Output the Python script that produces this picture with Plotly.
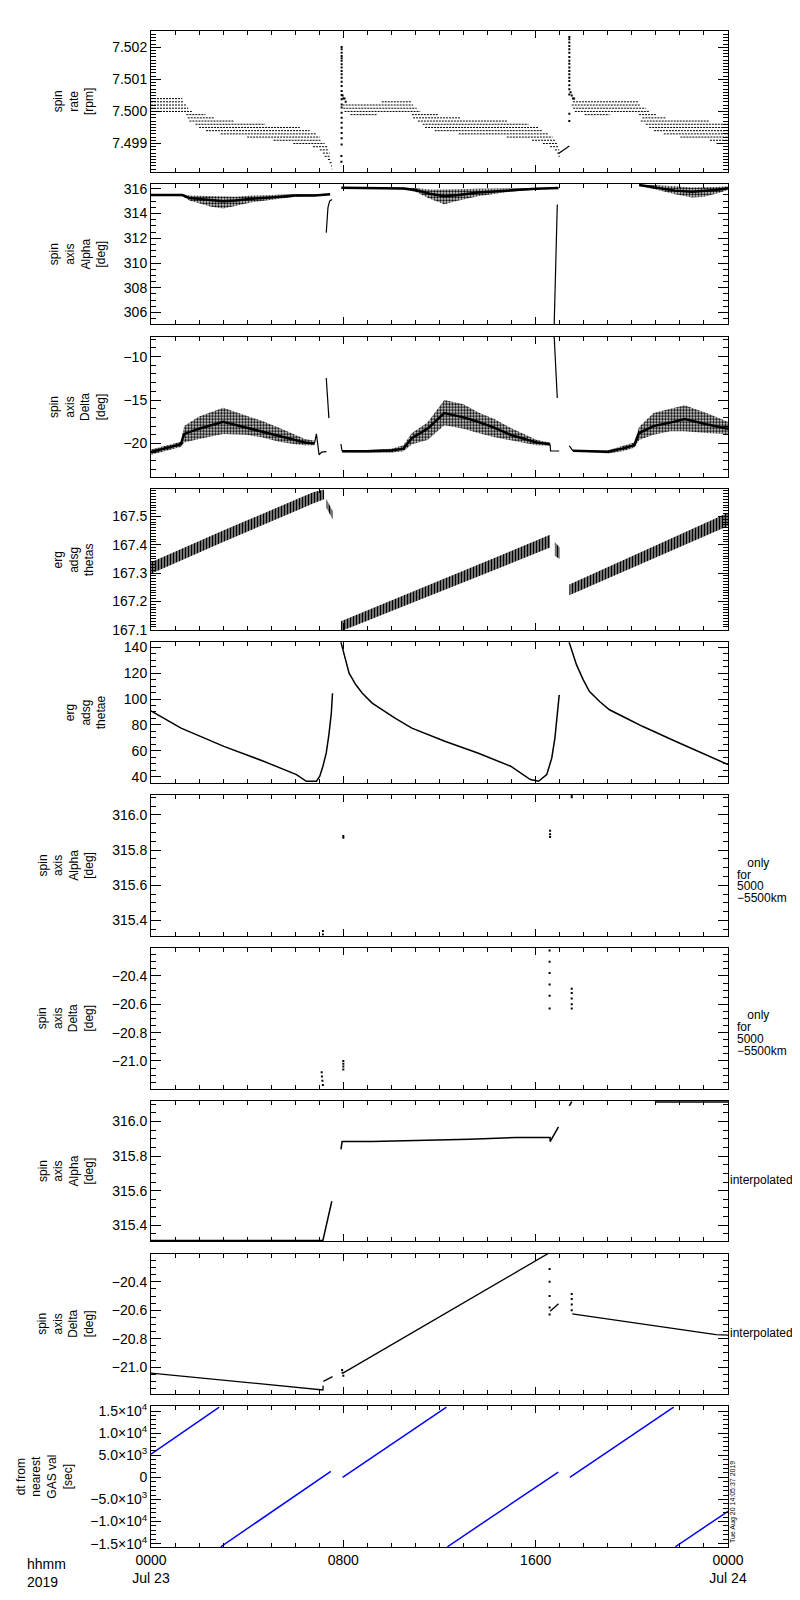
import pandas as pd
import plotly.graph_objects as go
from plotly.subplots import make_subplots

T0 = pd.Timestamp("2019-07-23 00:00")

# ---- panel 1: spin rate, quantized levels (1e-4 rpm steps above 7.5) with time spans [h]
rate_level = [4, 3, 2, 1, 0, -1, -2, -3, -4, -5, -6, -7, -8, -9, -10, -11, -12, -13, -14, -15, -16, -17, -18,
              3, 2, 1, 0, -1, -1, -2, -3, -4, -5, -6, -7, -8, -9, -10, -11, -12, -13, -14,
              3, 2, 1, 0, -1, -1, -2, -3, -4, -5, -6, -7, -8, -9, -10]
rate_t0 = [0.0, 0.0, 0.0, 0.0, 0.0, 1.47, 1.53, 1.60, 1.85, 2.00, 2.29, 2.90, 4.00, 5.10, 5.92, 6.74, 7.02, 7.15, 7.22, 7.36, 7.43, 7.49, 7.52,
           9.60, 7.97, 8.00, 8.05, 8.30, 10.85, 10.90, 11.10, 11.30, 11.40, 11.80, 12.80, 14.80, 15.85, 16.30, 16.60, 16.80, 16.90, 16.95,
           17.55, 17.50, 17.56, 17.63, 18.04, 20.30, 20.44, 20.37, 20.58, 20.72, 20.92, 21.33, 22.02, 23.25, 23.52]
rate_t1 = [1.30, 1.35, 1.45, 1.55, 1.70, 2.26, 2.63, 3.45, 4.75, 6.19, 6.60, 6.88, 7.02, 7.05, 7.22, 7.36, 7.40, 7.43, 7.45, 7.49, 7.52, 7.53, 7.54,
           10.85, 10.90, 11.05, 11.20, 9.40, 11.95, 12.90, 14.80, 15.70, 16.10, 16.30, 16.50, 16.70, 16.85, 16.90, 16.95, 16.98, 17.00, 17.00,
           20.30, 20.37, 20.58, 20.72, 19.07, 21.00, 21.40, 23.20, 24.00, 24.00, 24.00, 24.00, 24.00, 24.00, 24.00]
rate_spike_t = [7.92, 7.92, 7.93, 7.93, 7.93, 7.93, 7.93, 7.93, 7.93, 7.93, 7.93, 7.93, 7.93, 7.93, 7.93, 7.93, 7.93,
                7.93, 7.93, 7.93, 7.93, 7.93, 7.93, 7.93, 7.93, 7.93, 7.93, 7.97, 8.00, 8.05, 8.10,
                17.40, 17.40, 17.40, 17.40, 17.40, 17.40, 17.40, 17.40, 17.40, 17.40, 17.40, 17.40, 17.40, 17.40,
                17.40, 17.40, 17.40, 17.40, 17.40, 17.45, 17.50, 17.55, 17.60]
rate_spike_v = [7.49843, 7.49861, 7.49897, 7.49916, 7.49933, 7.49949, 7.49965, 7.49980, 7.49996, 7.50012, 7.50022,
                7.50038, 7.50051, 7.50064, 7.50079, 7.50093, 7.50105, 7.50116, 7.50126, 7.50137, 7.50147, 7.50158,
                7.50166, 7.50173, 7.50183, 7.50194, 7.50201, 7.50050, 7.50040, 7.50040, 7.50030,
                7.50232, 7.50225, 7.50215, 7.50204, 7.50194, 7.50183, 7.50170, 7.50158, 7.50149, 7.50137, 7.50126,
                7.50116, 7.50105, 7.50095, 7.50082, 7.50069, 7.50053, 7.49993, 7.49970, 7.50060, 7.50050, 7.50040, 7.50040]
rate_ramp_t = [16.95, 17.40]
rate_ramp_v = [7.49869, 7.49892]

# ---- panel 2: spin axis alpha (noisy band: mid / low / high envelope)
alpha_a_t = [0.0, 1.3, 1.6, 2.5, 3.0, 3.5, 4.2, 5.0, 6.0, 6.8, 7.2, 7.45]
alpha_a_mid = [315.5, 315.5, 315.25, 315.05, 315.0, 315.05, 315.2, 315.3, 315.45, 315.45, 315.5, 315.55]
alpha_a_lo = [315.45, 315.4, 315.05, 314.55, 314.4, 314.6, 314.9, 315.1, 315.35, 315.4, 315.45, 315.5]
alpha_a_hi = [315.55, 315.55, 315.45, 315.4, 315.4, 315.35, 315.45, 315.5, 315.55, 315.55, 315.6, 315.6]
alpha_b_t = [7.92, 9.5, 10.5, 11.0, 11.6, 12.2, 12.8, 13.6, 14.9, 16.0, 16.95]
alpha_b_mid = [316.08, 316.07, 316.03, 315.9, 315.6, 315.4, 315.5, 315.7, 315.88, 316.0, 316.06]
alpha_b_lo = [316.04, 316.03, 315.95, 315.75, 315.2, 314.75, 315.05, 315.4, 315.75, 315.95, 316.02]
alpha_b_hi = [316.12, 316.12, 316.1, 316.05, 315.95, 315.95, 315.95, 316.0, 316.02, 316.05, 316.1]
alpha_c_t = [20.3, 21.0, 21.8, 22.5, 23.0, 23.5, 24.0]
alpha_c_mid = [316.3, 316.1, 315.85, 315.75, 315.8, 315.9, 316.05]
alpha_c_lo = [316.25, 315.95, 315.55, 315.3, 315.35, 315.6, 315.9]
alpha_c_hi = [316.35, 316.3, 316.2, 316.1, 316.1, 316.15, 316.2]
alpha_jump_t = [7.29, 7.36, 7.43, 7.53, None, 16.77, 16.84, 16.88, 16.90]
alpha_jump_v = [312.45, 314.47, 315.0, 315.14, None, 305.0, 311.78, 313.93, 314.73]

# ---- panel 3: spin axis delta
delta_a_t = [0.0, 0.6, 1.24, 1.38, 2.0, 3.0, 3.96, 4.6, 5.33, 6.0, 6.4, 6.8]
delta_a_mid = [-21.0, -20.6, -20.1, -18.9, -18.3, -17.5, -18.2, -18.6, -19.2, -19.6, -19.9, -20.0]
delta_a_lo = [-21.3, -20.9, -20.4, -19.9, -19.5, -18.9, -19.0, -19.3, -19.8, -20.1, -20.2, -20.2]
delta_a_hi = [-20.7, -20.3, -19.8, -18.0, -16.9, -15.9, -16.8, -17.4, -18.2, -19.0, -19.5, -19.7]
delta_b_t = [7.95, 9.0, 10.0, 10.5, 10.85, 11.5, 12.2, 13.0, 13.6, 14.3, 14.95, 16.05, 16.6]
delta_b_mid = [-20.9, -20.9, -20.8, -20.6, -19.4, -18.3, -16.5, -17.0, -17.5, -18.2, -19.0, -19.9, -20.1]
delta_b_lo = [-21.0, -21.05, -21.05, -20.9, -20.1, -19.6, -17.9, -18.3, -18.8, -19.3, -19.6, -20.2, -20.25]
delta_b_hi = [-20.8, -20.75, -20.6, -20.2, -18.8, -17.6, -15.0, -15.5, -16.4, -17.2, -18.2, -19.6, -19.9]
delta_c_t = [17.55, 18.5, 19.0, 19.6, 20.1, 20.3, 20.9, 21.6, 22.2, 23.1, 24.0]
delta_c_mid = [-20.85, -20.9, -20.95, -20.6, -20.2, -18.8, -18.0, -17.6, -17.2, -17.8, -18.3]
delta_c_lo = [-20.95, -21.0, -21.15, -20.9, -20.5, -19.6, -19.0, -18.6, -18.6, -18.8, -18.9]
delta_c_hi = [-20.75, -20.8, -20.8, -20.3, -19.9, -18.1, -16.5, -16.0, -15.6, -16.5, -17.5]
delta_line_t = [6.8, 6.88, 6.99, 7.1, 7.3, None, 7.29, 7.33, 7.40, None, 7.9, 7.95, None,
                16.6, 16.62, 16.98, None, 16.77, 16.84, 16.90, None, 17.4, 17.55]
delta_line_v = [-20.0, -18.9, -21.3, -21.0, -20.95, None, -12.46, -14.5, -17.08, None, -20.08, -20.9, None,
                -20.1, -20.85, -20.87, None, -7.7, -10.9, -14.77, None, -20.27, -20.85]

# ---- panel 4: erg adsg thetas (striped band low / high)
thetas_a_t = [0.0, 3.0, 6.74, 7.2]
thetas_a_lo = [167.298, 167.41, 167.545, 167.56]
thetas_a_hi = [167.338, 167.45, 167.585, 167.595]
thetas_d1_t = [7.3, 7.55]
thetas_d1_lo = [167.53, 167.49]
thetas_d1_hi = [167.56, 167.52]
thetas_b_t = [7.9, 16.6]
thetas_b_lo = [167.095, 167.39]
thetas_b_hi = [167.13, 167.435]
thetas_d2_t = [16.8, 17.0]
thetas_d2_lo = [167.36, 167.35]
thetas_d2_hi = [167.41, 167.39]
thetas_c_t = [17.4, 24.0]
thetas_c_lo = [167.222, 167.466]
thetas_c_hi = [167.26, 167.513]

# ---- panel 5: erg adsg thetae
thetae_t = [0.0, 1.25, 3.03, 4.68, 6.05, 6.46, 6.88, 7.02, 7.15, 7.29, 7.40, 7.50, 7.55, None,
            7.9, 8.11, 8.24, 8.52, 8.79, 9.2, 9.62, 10.15, 10.85, 12.22, 13.59, 14.96, 15.78, 16.12, 16.46,
            16.67, 16.8, 16.91, 16.98, None,
            17.39, 17.57, 17.7, 17.98, 18.24, 18.66, 19.07, 19.75, 20.44, 21.81, 23.18, 24.0]
thetae_v = [90.9, 77.5, 63.4, 51.9, 41.5, 36.4, 36.4, 40.3, 48.0, 58.3, 72.4, 89.0, 104.5, None,
            144.0, 129.0, 120.0, 111.0, 104.5, 96.8, 91.7, 85.3, 77.5, 67.3, 58.3, 48.0, 37.7, 36.4, 41.5,
            54.4, 69.8, 87.8, 103.2, None,
            144.0, 134.0, 126.4, 114.8, 105.8, 98.1, 91.7, 85.3, 78.9, 67.3, 55.7, 49.3]

# ---- panels 6 / 7: only for 5000-5500km
alpha_only_t = [7.15, 7.15, 8.0, 8.0, 16.6, 16.6, 16.6, 17.5, 17.5]
alpha_only_v = [315.32, 315.34, 315.88, 315.87, 315.91, 315.89, 315.875, 316.10, 316.11]
delta_only_t = [7.10, 7.11, 7.13, 7.15, 8.0, 8.0, 8.0, 8.0, 16.58, 16.58, 16.58, 16.58, 16.58, 16.58,
                17.5, 17.5, 17.5, 17.5, 17.5]
delta_only_v = [-21.08, -21.11, -21.14, -21.17, -21.0, -21.02, -21.04, -21.06, -20.22, -20.30, -20.38, -20.46,
                -20.54, -20.63, -20.49, -20.52, -20.56, -20.60, -20.63]

# ---- panels 8 / 9: interpolated
alpha_int_t = [0.0, 7.15, 7.52, None, 7.9, 7.95, 9.2, 10.85, 13.25, 15.2, 16.6, 16.6, 16.95, None,
               17.4, 17.5, None, 21.0, 24.0]
alpha_int_v = [315.312, 315.312, 315.539, None, 315.839, 315.884, 315.884, 315.889, 315.897, 315.907, 315.907,
               315.884, 315.969, None, 316.09, 316.115, None, 316.112, 316.112]
delta_int_t = [0.0, 7.15, 7.16, None, 7.17, 7.55, None, 8.0, 10.85, 16.58, None, 16.6, 16.95, None,
               17.52, 23.5, 24.0]
delta_int_v = [-21.042, -21.16, -21.13, None, -21.10, -21.066, None, -21.04, -20.76, -20.195, None,
               -20.607, -20.555, None, -20.626, -20.772, -20.775]
delta_int_dot_t = [7.95, 7.97, 8.0, 16.58, 16.58, 16.58, 16.58, 16.58, 17.5, 17.5, 17.5, 17.5]
delta_int_dot_v = [-21.02, -21.04, -21.06, -20.31, -20.40, -20.50, -20.58, -20.63, -20.485, -20.52, -20.56, -20.60]

# ---- panel 10: dt from nearest GAS val [sec]
dt_t = [0.0, 2.84, None, 2.9, 7.48, None, 7.97, 12.29, None, 12.33, 16.94, None, 17.42, 21.74, None, 21.81, 24.0]
dt_v = [5256, 15900, None, -15700, 1350, None, 0, 15900, None, -15700, 1195, None, 0, 15900, None, -15700, -7670]
dt_tickvals = [-15000, -10000, -5000, 0, 5000, 10000, 15000]
dt_ticktext = ["\u22121.5\u00d710<sup>4</sup>", "\u22121.0\u00d710<sup>4</sup>", "\u22125.0\u00d710<sup>3</sup>", "0",
               "5.0\u00d710<sup>3</sup>", "1.0\u00d710<sup>4</sup>", "1.5\u00d710<sup>4</sup>"]

x_tick_hours = [0, 8, 16, 24]
x_tick_text = ["0000<br>Jul 23", "0800", "1600", "0000<br>Jul 24"]


def tt(hours):
    return [None if h is None else T0 + pd.Timedelta(hours=h) for h in hours]


fig = make_subplots(rows=10, cols=1, shared_xaxes=True, vertical_spacing=0.008)


def line(t, v, row, width=1.2, color="black", dash=None):
    fig.add_trace(go.Scatter(x=tt(t), y=v, mode="lines",
                             line=dict(color=color, width=width, dash=dash)), row=row, col=1)


def dots(t, v, row, size=2):
    fig.add_trace(go.Scatter(x=tt(t), y=v, mode="markers",
                             marker=dict(color="black", size=size, symbol="square", line=dict(width=0))),
                  row=row, col=1)


def band(t, lo, hi, row, shape=".", size=3, solidity=0.6):
    fig.add_trace(go.Scatter(x=tt(list(t) + list(t)[::-1]), y=list(hi) + list(lo)[::-1],
                             mode="lines", fill="toself", line=dict(width=0),
                             fillcolor="rgba(0,0,0,0)",
                             fillpattern=dict(shape=shape, fgcolor="black", fgopacity=1,
                                              size=size, solidity=solidity)),
                  row=row, col=1)


# panel 1
xs, ys = [], []
for lv, a, b in zip(rate_level, rate_t0, rate_t1):
    xs += [a, b, None]
    ys += [7.5 + lv * 1e-4, 7.5 + lv * 1e-4, None]
line(xs, ys, 1, width=1, dash="2px,1px")
dots(rate_spike_t, rate_spike_v, 1)
line(rate_ramp_t, rate_ramp_v, 1, width=1.3)

# panel 2
for t, mid, lo, hi in [(alpha_a_t, alpha_a_mid, alpha_a_lo, alpha_a_hi),
                       (alpha_b_t, alpha_b_mid, alpha_b_lo, alpha_b_hi),
                       (alpha_c_t, alpha_c_mid, alpha_c_lo, alpha_c_hi)]:
    band(t, lo, hi, 2)
    line(t, mid, 2, width=2.5)
line(alpha_jump_t, alpha_jump_v, 2, width=1.2)

# panel 3
for t, mid, lo, hi in [(delta_a_t, delta_a_mid, delta_a_lo, delta_a_hi),
                       (delta_b_t, delta_b_mid, delta_b_lo, delta_b_hi),
                       (delta_c_t, delta_c_mid, delta_c_lo, delta_c_hi)]:
    band(t, lo, hi, 3)
    line(t, mid, 3, width=2.5)
line(delta_line_t, delta_line_v, 3, width=1.2)

# panel 4
for t, lo, hi in [(thetas_a_t, thetas_a_lo, thetas_a_hi), (thetas_d1_t, thetas_d1_lo, thetas_d1_hi),
                  (thetas_b_t, thetas_b_lo, thetas_b_hi), (thetas_d2_t, thetas_d2_lo, thetas_d2_hi),
                  (thetas_c_t, thetas_c_lo, thetas_c_hi)]:
    band(t, lo, hi, 4, shape="|", size=3, solidity=0.7)

# panel 5
line(thetae_t, thetae_v, 5, width=1.5)

# panels 6-9
dots(alpha_only_t, alpha_only_v, 6)
dots(delta_only_t, delta_only_v, 7)
line(alpha_int_t, alpha_int_v, 8, width=1.5)
line(delta_int_t, delta_int_v, 9, width=1.3)
dots(delta_int_dot_t, delta_int_dot_v, 9)

# panel 10
line(dt_t, dt_v, 10, width=1.5, color="#0000ff")

panels = [
    ("spin<br>rate<br>[rpm]", [7.49812, 7.50251], 0.001, 0.0001, ".3f"),
    ("spin<br>axis<br>Alpha<br>[deg]", [305.03, 316.4], 2, 0.5, "d"),
    ("spin<br>axis<br>Delta<br>[deg]", [-23.9, -7.7], 5, 1, "d"),
    ("erg<br>adsg<br>thetas", [167.099, 167.595], 0.1, 0.01, ".1f"),
    ("erg<br>adsg<br>thetae", [35.1, 143.9], 20, 5, "d"),
    ("spin<br>axis<br>Alpha<br>[deg]", [315.313, 316.113], 0.2, 0.05, ".1f"),
    ("spin<br>axis<br>Delta<br>[deg]", [-21.195, -20.202], 0.2, 0.05, ".1f"),
    ("spin<br>axis<br>Alpha<br>[deg]", [315.307, 316.12], 0.2, 0.05, ".1f"),
    ("spin<br>axis<br>Delta<br>[deg]", [-21.19, -20.201], 0.2, 0.05, ".1f"),
    ("dt from<br>nearest<br>GAS val<br>[sec]", [-15750, 16060], None, 1000, None),
]

axis_common = dict(showline=True, linecolor="black", linewidth=1, mirror="allticks", showgrid=False,
                   zeroline=False, ticks="inside", tickcolor="black", tickwidth=1)

for i, (title, rng, dtick, mdt, fmt) in enumerate(panels, start=1):
    ykw = dict(axis_common, range=rng, ticklen=10,
               title=dict(text=title, font=dict(size=12)),
               minor=dict(dtick=mdt, ticks="inside", ticklen=5, tickcolor="black"))
    if dtick is None:
        ykw.update(tickmode="array", tickvals=dt_tickvals, ticktext=dt_ticktext)
    else:
        ykw.update(dtick=dtick, tickformat=fmt)
    fig.update_yaxes(row=i, col=1, **ykw)
    fig.update_xaxes(row=i, col=1, **axis_common, type="date",
                     range=[T0, T0 + pd.Timedelta(hours=24)], ticklen=7,
                     tickmode="array", tickvals=tt(x_tick_hours), ticktext=x_tick_text,
                     showticklabels=(i == 10),
                     minor=dict(dtick=3600000, tick0=T0, ticks="inside", ticklen=4, tickcolor="black"))

notes = [("\u00a0only", 1.0257, 0.4515), ("for", 1.0137, 0.4436), ("5000", 1.0137, 0.4357),
         ("\u22125500km", 1.0137, 0.4278),
         ("\u00a0only", 1.0257, 0.3510), ("for", 1.0137, 0.3431), ("5000", 1.0137, 0.3352),
         ("\u22125500km", 1.0137, 0.3273),
         ("interpolated", 1.0017, 0.2423), ("interpolated", 1.0017, 0.1412)]
for text, x, y in notes:
    fig.add_annotation(text=text, x=x, y=y, xref="paper", yref="paper", xanchor="left", yanchor="middle",
                       showarrow=False, font=dict(size=12), borderpad=0)
fig.add_annotation(text="hhmm<br>2019", x=-0.219, y=-0.0046, xref="paper", yref="paper",
                   xanchor="left", yanchor="top", align="left", showarrow=False, font=dict(size=14))
fig.add_annotation(text="Tue Aug 20 14:05:37 2019", x=1.0086, y=0.0013, xref="paper", yref="paper",
                   xanchor="center", yanchor="bottom", textangle=-90, showarrow=False, font=dict(size=7))

fig.update_layout(
    width=800, height=1600,
    margin=dict(l=136, r=80, t=23, b=61),
    showlegend=False,
    plot_bgcolor="white", paper_bgcolor="white",
    font=dict(family="Liberation Sans", size=14, color="black"),
)

fig.write_html("out.html")
